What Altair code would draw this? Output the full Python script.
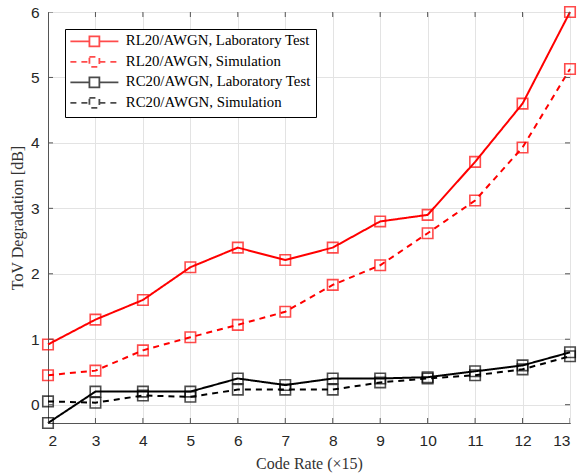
import altair as alt
import pandas as pd

rates = [2, 3, 4, 5, 6, 7, 8, 9, 10, 11, 12, 13]
rl_lab = [0.92, 1.30, 1.60, 2.10, 2.40, 2.21, 2.40, 2.80, 2.90, 3.71, 4.60, 6.00]
rl_sim = [0.45, 0.52, 0.83, 1.03, 1.22, 1.42, 1.83, 2.13, 2.62, 3.12, 3.93, 5.13]
rc_lab = [-0.28, 0.20, 0.20, 0.20, 0.40, 0.30, 0.40, 0.40, 0.42, 0.51, 0.60, 0.80]
rc_sim = [0.05, 0.03, 0.14, 0.12, 0.23, 0.23, 0.23, 0.34, 0.40, 0.45, 0.54, 0.74]
y_ticks = [0, 1, 2, 3, 4, 5, 6]
x_min, x_max = 2, 13
y_min, y_max = -0.28, 6

names = [
    "RL20/AWGN, Laboratory Test",
    "RL20/AWGN, Simulation",
    "RC20/AWGN, Laboratory Test",
    "RC20/AWGN, Simulation",
]
colors = ["#ff0000", "#ff0000", "#000000", "#000000"]
dashes = [[1, 0], [6, 5], [1, 0], [6, 5]]

rows = []
for name, vals in zip(names, [rl_lab, rl_sim, rc_lab, rc_sim]):
    for r, v in zip(rates, vals):
        rows.append({"rate": r, "value": v, "series": name})
df = pd.DataFrame(rows)
tick_x_df = pd.DataFrame({"rate": rates})
tick_y_df = pd.DataFrame({"value": y_ticks})

sym = "M-4,0H-0.83M0.83,0H4M-0.83,-0.83H0.83V0.83H-0.83Z"

leg = alt.Legend(
    title=None, orient="none", legendX=17, legendY=17,
    symbolType=sym, symbolSize=144, symbolStrokeWidth=1.8,
    symbolFillColor="transparent", symbolOffset=17, labelOffset=24,
    labelFont="Liberation Serif", labelFontSize=14.8, labelColor="#000",
    labelLimit=400, rowPadding=2.5, padding=5,
    strokeColor="#000", fillColor="#fff",
)

xs = alt.Scale(domain=[x_min, x_max], nice=False)
ys = alt.Scale(domain=[y_min, y_max], nice=False, zero=False)

x = alt.X("rate:Q", scale=xs,
          axis=alt.Axis(values=rates, title="Code Rate (×15)", format="d"))
y = alt.Y("value:Q", scale=ys,
          axis=alt.Axis(values=y_ticks, title="ToV Degradation [dB]", format="d"))
color = alt.Color("series:N", scale=alt.Scale(domain=names, range=colors), legend=leg)
dash = alt.StrokeDash("series:N", scale=alt.Scale(domain=names, range=dashes), legend=leg)

lines = alt.Chart(df).mark_line(strokeWidth=2).encode(x=x, y=y, color=color, strokeDash=dash)
points = alt.Chart(df).mark_point(shape="square", filled=False, size=110, strokeWidth=1.6).encode(
    x=x, y=y, color=color)

tick_style = dict(size=10, thickness=1, color="#555", clip=True, opacity=1)
xt = alt.X("rate:Q", scale=xs)
yt = alt.Y("value:Q", scale=ys)
ticks_top = alt.Chart(tick_x_df).mark_tick(orient="vertical", **tick_style).encode(
    x=xt, y=alt.YDatum(y_max, type="quantitative"))
ticks_bottom = alt.Chart(tick_x_df).mark_tick(orient="vertical", **tick_style).encode(
    x=xt, y=alt.YDatum(y_min, type="quantitative"))
ticks_left = alt.Chart(tick_y_df).mark_tick(orient="horizontal", **tick_style).encode(
    y=yt, x=alt.XDatum(x_min, type="quantitative"))
ticks_right = alt.Chart(tick_y_df).mark_tick(orient="horizontal", **tick_style).encode(
    y=yt, x=alt.XDatum(x_max, type="quantitative"))

chart = alt.layer(lines, points, ticks_top, ticks_bottom, ticks_left, ticks_right).properties(
    width=522, height=411,
    autosize=alt.AutoSizeParams(type="none"),
    padding={"left": 48, "top": 12, "right": 9, "bottom": 52},
).configure_view(stroke="#555", strokeWidth=1).configure_axis(
    grid=True, gridColor="#e3e3e3", gridWidth=1,
    domainColor="#555", domainWidth=1, ticks=False,
    labelFont="Liberation Sans", labelFontSize=15.5, labelColor="#262626",
    titleFont="Liberation Serif", titleFontSize=16, titleColor="#333333",
    titleFontWeight="normal",
).configure_axisX(labelPadding=10, titlePadding=7).configure_axisY(labelPadding=9, titlePadding=5)

chart.save("out.html", embed_options={"renderer": "svg", "actions": False})
